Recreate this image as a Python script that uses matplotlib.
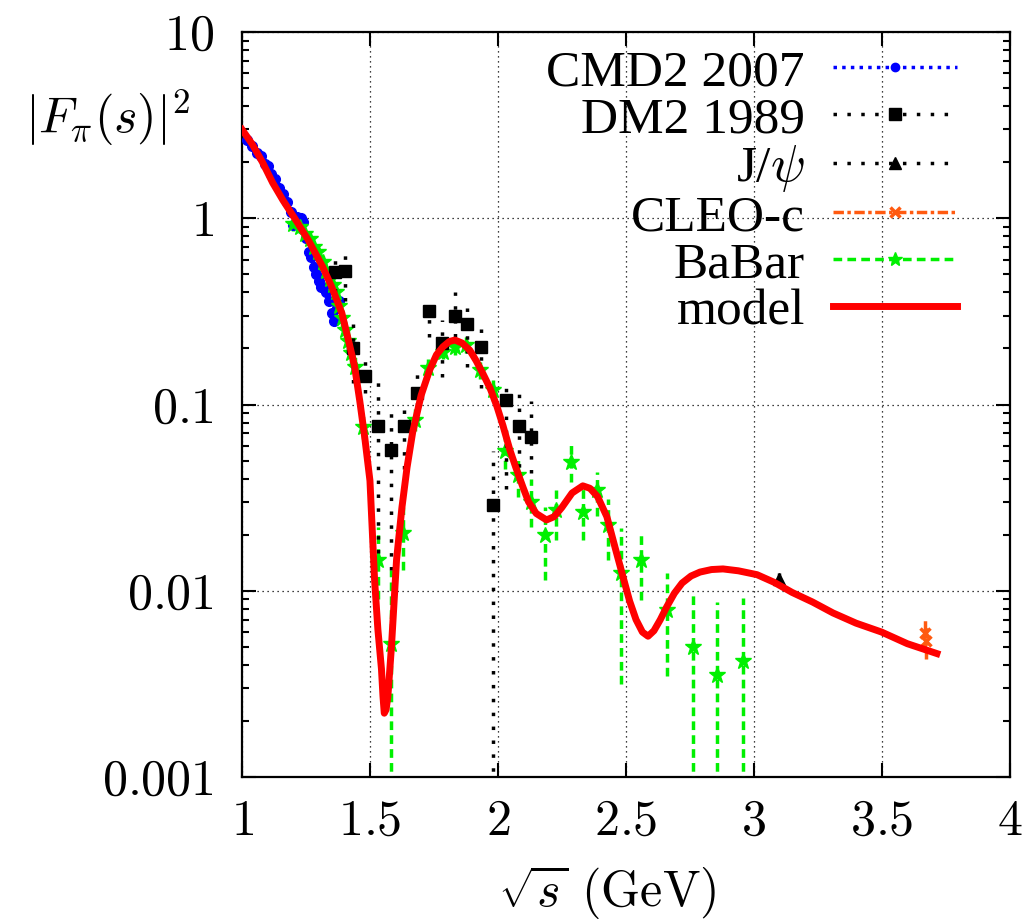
import numpy as np
import matplotlib
matplotlib.use("Agg")
import matplotlib.pyplot as plt
from matplotlib.lines import Line2D
from matplotlib.ticker import FixedLocator, FixedFormatter, LogLocator, NullFormatter

plt.rcParams["mathtext.fontset"] = "cm"
plt.rcParams["font.family"] = ["Liberation Serif", "DejaVu Serif"]

# CMD2 2007 (blue)
cmd2_x = [1.02, 1.04, 1.06, 1.075, 1.09, 1.10, 1.115, 1.13, 1.145, 1.16, 1.175, 1.19, 1.20,
          1.215, 1.23, 1.24, 1.25, 1.26, 1.27, 1.28, 1.29, 1.30, 1.31, 1.32, 1.33, 1.34,
          1.35, 1.36, 1.37, 1.38]
cmd2_y = [2.65, 2.45, 2.25, 2.15, 1.95, 1.90, 1.72, 1.62, 1.45, 1.35, 1.22, 1.08, 0.92,
          1.02, 1.00, 0.95, 0.78, 0.66, 0.62, 0.55, 0.50, 0.46, 0.43, 0.42, 0.40, 0.36,
          0.31, 0.28, 0.33, 0.36]

# DM2 1989 (black squares), value with lower / upper error ends
dm2_x = [1.362, 1.401, 1.434, 1.479, 1.531, 1.581, 1.632, 1.684, 1.73, 1.782, 1.831,
         1.881, 1.933, 1.981, 2.033, 2.083, 2.131]
dm2_y = [0.516, 0.52, 0.20, 0.143, 0.077, 0.057, 0.077, 0.116, 0.319, 0.213, 0.299,
         0.27, 0.203, 0.0289, 0.106, 0.077, 0.067]
dm2_lo = [0.40, 0.36, 0.13, 0.115, 0.016, 0.013, 0.045, 0.083, 0.23, 0.14, 0.23,
          0.16, 0.122, 1e-5, 0.035, 0.039, 0.043]
dm2_hi = [0.63, 0.69, 0.27, 0.19, 0.132, 0.10, 0.10, 0.153, 0.37, 0.285, 0.40,
          0.37, 0.28, 0.056, 0.136, 0.115, 0.104]

# J/psi
jpsi_x = [3.097]
jpsi_y = [0.0115]
jpsi_lo = [0.0105]
jpsi_hi = [0.0125]

# CLEO-c
cleo_x = [3.671, 3.672]
cleo_y = [0.0059, 0.0054]
cleo_lo = [0.0047, 0.0043]
cleo_hi = [0.0070, 0.0065]

# BaBar (green)
babar_x = [1.20, 1.225, 1.245, 1.264, 1.28, 1.297, 1.315, 1.329, 1.345, 1.355, 1.368,
           1.38, 1.39, 1.401, 1.415, 1.427, 1.44, 1.473, 1.531, 1.584, 1.629, 1.675,
           1.727, 1.786, 1.831, 1.877, 1.929, 1.981, 2.027, 2.079, 2.131, 2.184, 2.229,
           2.284, 2.333, 2.386, 2.431, 2.48, 2.558, 2.66, 2.761, 2.858, 2.959]
babar_y = [0.93, 0.90, 0.82, 0.77, 0.70, 0.66, 0.58, 0.52, 0.47, 0.44, 0.40,
           0.34, 0.29, 0.25, 0.22, 0.19, 0.16, 0.076, 0.0147, 0.0052, 0.0205, 0.083,
           0.157, 0.192, 0.203, 0.209, 0.153, 0.12, 0.056, 0.042, 0.030, 0.0199, 0.0272,
           0.0494, 0.0266, 0.0348, 0.0226, 0.0124, 0.0147, 0.0079, 0.0050, 0.00354, 0.00422]
babar_lo = [0.86, 0.83, 0.76, 0.71, 0.65, 0.61, 0.53, 0.48, 0.43, 0.40, 0.37,
            0.31, 0.26, 0.22, 0.19, 0.165, 0.135, 0.065, 0.009, 1e-5, 0.013, 0.072,
            0.14, 0.175, 0.185, 0.19, 0.138, 0.105, 0.045, 0.032, 0.022, 0.0114, 0.0187,
            0.0385, 0.0187, 0.0251, 0.0147, 0.00314, 0.0089, 0.0035, 1e-5, 1e-5, 1e-5]
babar_hi = [1.00, 0.97, 0.88, 0.83, 0.75, 0.71, 0.63, 0.56, 0.51, 0.48, 0.43,
            0.37, 0.32, 0.28, 0.25, 0.215, 0.185, 0.088, 0.022, 0.013, 0.028, 0.095,
            0.175, 0.21, 0.22, 0.23, 0.17, 0.135, 0.068, 0.053, 0.04, 0.0283, 0.0348,
            0.061, 0.0357, 0.0436, 0.031, 0.0217, 0.0205, 0.0124, 0.010, 0.0087, 0.0091]

# model curve (red)
model_x = [1.00, 1.04, 1.08, 1.12, 1.16, 1.21, 1.26, 1.315, 1.35, 1.39, 1.42, 1.44, 1.46,
           1.48, 1.50, 1.518, 1.531, 1.545, 1.551, 1.556, 1.563, 1.57, 1.584, 1.604, 1.625,
           1.645, 1.667, 1.70, 1.733, 1.76, 1.785, 1.81, 1.832, 1.86, 1.89, 1.915, 1.94,
           1.97, 1.996, 2.02, 2.047, 2.07, 2.098, 2.12, 2.15, 2.19, 2.22, 2.25, 2.29, 2.332,
           2.36, 2.39, 2.426, 2.46, 2.489, 2.515, 2.54, 2.565, 2.587, 2.61, 2.635, 2.66,
           2.69, 2.72, 2.755, 2.79, 2.835, 2.88, 2.94, 3.013, 3.08, 3.15, 3.23, 3.31, 3.40,
           3.50, 3.60, 3.716]
model_y = [3.00, 2.50, 2.00, 1.55, 1.25, 0.98, 0.76, 0.55, 0.43, 0.31, 0.21, 0.16, 0.105,
           0.066, 0.039, 0.0115, 0.0062, 0.0038, 0.0027, 0.0022, 0.0023, 0.0027, 0.005,
           0.0147, 0.028, 0.046, 0.071, 0.112, 0.153, 0.185, 0.204, 0.218, 0.222, 0.214,
           0.196, 0.172, 0.148, 0.122, 0.098, 0.077, 0.057, 0.046, 0.036, 0.030, 0.026,
           0.024, 0.025, 0.028, 0.0335, 0.0366, 0.0355, 0.032, 0.025, 0.0167, 0.0119,
           0.0088, 0.0070, 0.0060, 0.0057, 0.0061, 0.0070, 0.0082, 0.0097, 0.0110, 0.0120,
           0.0126, 0.0130, 0.0131, 0.0128, 0.0122, 0.0111, 0.0098, 0.0087, 0.0076, 0.0067,
           0.0060, 0.0052, 0.0046]

x_ticks = [1, 1.5, 2, 2.5, 3, 3.5, 4]
x_labels = ["1", "1.5", "2", "2.5", "3", "3.5", "4"]
y_ticks = [0.001, 0.01, 0.1, 1, 10]
y_labels = ["0.001", "0.01", "0.1", "1", "10"]

blue = "#0000ff"
green = "#00f000"
orange = "#ff5a10"
red = "#ff0000"

dot_cmd2 = (0, (1, 1.5))
dot_black = (0, (1, 3))
dash_green = (0, (2.5, 1.5))
dashdot_orange = (0, (3, 1, 1, 1))


def errs(y, lo, hi):
    y = np.array(y)
    return [y - np.array(lo), np.array(hi) - y]


fig = plt.figure(figsize=(10.33, 9.23), dpi=100)
ax = fig.add_axes([0.2343, 0.1582, 0.743, 0.807])
ax.set_yscale("log")

# CMD2
y = np.array(cmd2_y)
eb = ax.errorbar(cmd2_x, cmd2_y, yerr=[y * 0.05, y * 0.05], fmt="o", color=blue, ms=7,
                 elinewidth=2.5, capsize=0, zorder=3)
eb[2][0].set_linestyle(dot_cmd2)

# BaBar
eb = ax.errorbar(babar_x, babar_y, yerr=errs(babar_y, babar_lo, babar_hi), fmt="*",
                 color=green, ms=12, elinewidth=2.5, capsize=0, zorder=3)
eb[2][0].set_linestyle(dash_green)

# DM2
eb = ax.errorbar(dm2_x, dm2_y, yerr=errs(dm2_y, dm2_lo, dm2_hi), fmt="s", color="k",
                 ms=8, mec="k", elinewidth=2.5, capsize=0, zorder=4)
eb[2][0].set_linestyle(dot_black)

# J/psi
eb = ax.errorbar(jpsi_x, jpsi_y, yerr=errs(jpsi_y, jpsi_lo, jpsi_hi), fmt="^", color="k",
                 ms=9, elinewidth=2.5, capsize=0, zorder=4)

# CLEO-c
eb = ax.errorbar(cleo_x, cleo_y, yerr=errs(cleo_y, cleo_lo, cleo_hi), fmt="x", color=orange,
                 ms=7, mew=2.5, elinewidth=2.5, capsize=0, zorder=4)
eb[2][0].set_linestyle(dashdot_orange)

# model
ax.plot(model_x, model_y, color=red, lw=5, zorder=5, solid_joinstyle="round")

ax.set_xlim(1, 4)
ax.set_ylim(0.001, 10)

ax.xaxis.set_major_locator(FixedLocator(x_ticks))
ax.xaxis.set_major_formatter(FixedFormatter(["$" + s + "$" for s in x_labels]))
ax.yaxis.set_major_locator(FixedLocator(y_ticks))
ax.yaxis.set_major_formatter(FixedFormatter(["$" + s + "$" for s in y_labels]))
ax.yaxis.set_minor_locator(LogLocator(base=10, subs=np.arange(2, 10)))
ax.yaxis.set_minor_formatter(NullFormatter())

ax.tick_params(which="both", direction="in", top=True, right=True, width=1.5, colors="k")
ax.tick_params(which="major", length=10, labelsize=36)
ax.tick_params(which="minor", length=5)
ax.tick_params(axis="x", pad=16)
ax.tick_params(axis="y", pad=20)
for sp in ax.spines.values():
    sp.set_linewidth(1.6)

ax.grid(True, which="major", color="k", ls=(0, (1, 3)), lw=0.9)
ax.set_axisbelow(True)

ax.set_xlabel(r"$\sqrt{s}\ (\mathrm{GeV})$", fontsize=36)
ax.xaxis.set_label_coords(0.475, -0.115)
fig.text(0.104, 0.872, r"$|F_\pi(s)|^2$", fontsize=36, ha="center", va="center")

handles = [
    Line2D([], [], color=blue, ls=dot_cmd2, lw=2.5, marker="o", ms=6),
    Line2D([], [], color="k", ls=dot_black, lw=2.5, marker="s", ms=8),
    Line2D([], [], color="k", ls=dot_black, lw=2.5, marker="^", ms=8),
    Line2D([], [], color=orange, ls=dashdot_orange, lw=2.5, marker="x", ms=7, mew=2.5),
    Line2D([], [], color=green, ls=dash_green, lw=2.5, marker="*", ms=10),
    Line2D([], [], color=red, lw=5),
]
labels = ["CMD2 2007", "DM2 1989", r"J/$\psi$", "CLEO-c", "BaBar", "model"]
leg = ax.legend(handles, labels, loc="upper right", bbox_to_anchor=(0.931, 0.977),
                frameon=False, markerfirst=False, fontsize=37, handlelength=2.4,
                handletextpad=0.55, labelspacing=0.0, borderpad=0, borderaxespad=0)
leg.set_zorder(10)

fig.savefig("out.png", dpi=100)
